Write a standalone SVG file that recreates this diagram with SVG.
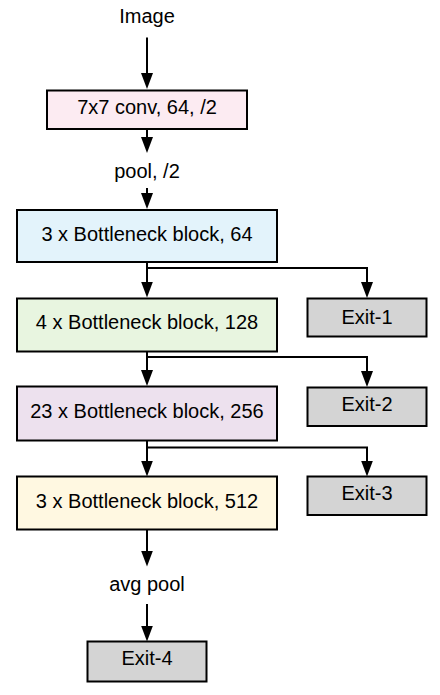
<svg xmlns="http://www.w3.org/2000/svg" width="440" height="695" viewBox="0 0 440 695">
<style>
.box{stroke:#000;stroke-width:2}
.exit{fill:#d4d4d4;stroke:#000;stroke-width:2}
text{font-family:"Liberation Sans",Arial,sans-serif;font-size:20px;fill:#000;text-anchor:middle}
.ln{fill:none;stroke:#000;stroke-width:2}
</style>
<defs>
<marker id="ah" markerUnits="userSpaceOnUse" markerWidth="20" markerHeight="14" viewBox="0 -7 20 14" refX="4" refY="0" orient="auto">
<path d="M0,-6 L16,0 L0,6 Z" fill="#000"/>
</marker>
</defs>
<rect width="440" height="695" fill="#fff"/>
<g id="connectors">
<path class="ln" d="M147,37.5 V77" marker-end="url(#ah)"/>
<path class="ln" d="M147,130 V141" marker-end="url(#ah)"/>
<path class="ln" d="M147,188 V197" marker-end="url(#ah)"/>
<path class="ln" d="M147,262 V285.5" marker-end="url(#ah)"/>
<path class="ln" d="M147,268 H367 V286" marker-end="url(#ah)"/>
<path class="ln" d="M147,352 V374" marker-end="url(#ah)"/>
<path class="ln" d="M147,357 H367 V375" marker-end="url(#ah)"/>
<path class="ln" d="M147,441 V464.5" marker-end="url(#ah)"/>
<path class="ln" d="M147,447.5 H367 V464.5" marker-end="url(#ah)"/>
<path class="ln" d="M147,530 V554.5" marker-end="url(#ah)"/>
<path class="ln" d="M147,604 V629.5" marker-end="url(#ah)"/>
</g>
<g id="image-label"><text x="147" y="22.7">Image</text></g>
<g id="conv"><rect class="box" x="47" y="90.5" width="200" height="38.5" fill="#fcebf2"/><text x="147" y="114.3">7x7 conv, 64, /2</text></g>
<g id="pool-label"><text x="147" y="178.3">pool, /2</text></g>
<g id="block1"><rect class="box" x="17" y="210" width="260" height="52" fill="#e3f3fb"/><text x="147" y="240.7">3 x Bottleneck block, 64</text></g>
<g id="block2"><rect class="box" x="17" y="298.5" width="260" height="53" fill="#e8f5e0"/><text x="147" y="329.3">4 x Bottleneck block, 128</text></g>
<g id="block3"><rect class="box" x="17" y="386.5" width="260" height="54" fill="#ede1ee"/><text x="147" y="418.3">23 x Bottleneck block, 256</text></g>
<g id="block4"><rect class="box" x="17" y="476.5" width="260" height="53" fill="#fff8e1"/><text x="147" y="508">3 x Bottleneck block, 512</text></g>
<g id="exit1"><rect class="exit" x="307.5" y="298.5" width="119" height="38"/><text x="367" y="324">Exit-1</text></g>
<g id="exit2"><rect class="exit" x="307.5" y="387.5" width="119" height="38.5"/><text x="367" y="410.7">Exit-2</text></g>
<g id="exit3"><rect class="exit" x="307.5" y="476.5" width="119" height="38.5"/><text x="367" y="500">Exit-3</text></g>
<g id="avgpool-label"><text x="147" y="590.7">avg pool</text></g>
<g id="exit4"><rect class="exit" x="87.5" y="641.5" width="119" height="40"/><text x="147" y="665.3">Exit-4</text></g>
</svg>
